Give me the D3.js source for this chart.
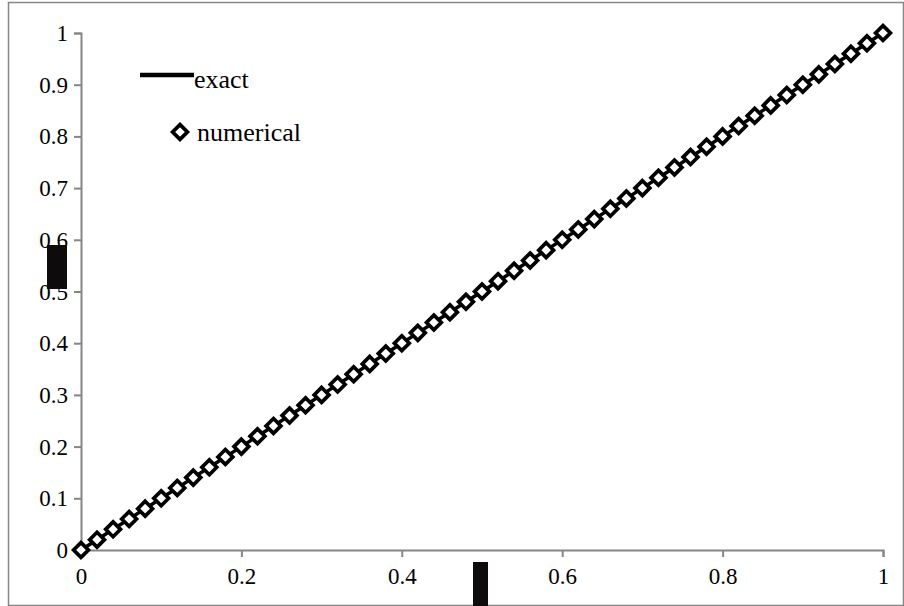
<!DOCTYPE html>
<html>
<head>
<meta charset="utf-8">
<script src="https://cdn.jsdelivr.net/npm/d3@7"></script>
<style>
  body { margin: 0; background: #fff; }
  svg { display: block; }
</style>
</head>
<body>
<svg id="chart" width="904" height="606"></svg>
<script>
// data
const xValues = [0, 0.02, 0.04, 0.06, 0.08, 0.1, 0.12, 0.14, 0.16, 0.18, 0.2,
  0.22, 0.24, 0.26, 0.28, 0.3, 0.32, 0.34, 0.36, 0.38, 0.4,
  0.42, 0.44, 0.46, 0.48, 0.5, 0.52, 0.54, 0.56, 0.58, 0.6,
  0.62, 0.64, 0.66, 0.68, 0.7, 0.72, 0.74, 0.76, 0.78, 0.8,
  0.82, 0.84, 0.86, 0.88, 0.9, 0.92, 0.94, 0.96, 0.98, 1];
const exactValues = [0, 0.02, 0.04, 0.06, 0.08, 0.1, 0.12, 0.14, 0.16, 0.18, 0.2,
  0.22, 0.24, 0.26, 0.28, 0.3, 0.32, 0.34, 0.36, 0.38, 0.4,
  0.42, 0.44, 0.46, 0.48, 0.5, 0.52, 0.54, 0.56, 0.58, 0.6,
  0.62, 0.64, 0.66, 0.68, 0.7, 0.72, 0.74, 0.76, 0.78, 0.8,
  0.82, 0.84, 0.86, 0.88, 0.9, 0.92, 0.94, 0.96, 0.98, 1];
const numericalValues = [0, 0.02, 0.04, 0.06, 0.08, 0.1, 0.12, 0.14, 0.16, 0.18, 0.2,
  0.22, 0.24, 0.26, 0.28, 0.3, 0.32, 0.34, 0.36, 0.38, 0.4,
  0.42, 0.44, 0.46, 0.48, 0.5, 0.52, 0.54, 0.56, 0.58, 0.6,
  0.62, 0.64, 0.66, 0.68, 0.7, 0.72, 0.74, 0.76, 0.78, 0.8,
  0.82, 0.84, 0.86, 0.88, 0.9, 0.92, 0.94, 0.96, 0.98, 1];
const xTicks = [0, 0.2, 0.4, 0.6, 0.8, 1];
const yTicks = [0, 0.1, 0.2, 0.3, 0.4, 0.5, 0.6, 0.7, 0.8, 0.9, 1];
const seriesNames = ["exact", "numerical"];

const svg = d3.select("svg#chart");
const width = +svg.attr("width");
const height = +svg.attr("height");
const axisColor = "#868686";
const serif = '"Liberation Serif", "Times New Roman", serif';

// chart frame
svg.append("rect")
  .attr("x", 8.5).attr("y", 2.5)
  .attr("width", width - 9).attr("height", height - 3)
  .attr("fill", "#fff")
  .attr("stroke", axisColor)
  .attr("stroke-width", 1.5);

const xScale = d3.scaleLinear().domain([0, 1]).range([81, 883]);
const yScale = d3.scaleLinear().domain([0, 1]).range([550, 33]);

// y axis
const yAxis = d3.axisLeft(yScale)
  .tickValues(yTicks)
  .tickSize(7)
  .tickPadding(6)
  .tickFormat(d3.format("~g"));
const yG = svg.append("g")
  .attr("transform", `translate(${xScale(0)},0)`)
  .call(yAxis);

// x axis
const xAxis = d3.axisBottom(xScale)
  .tickValues(xTicks)
  .tickSize(7)
  .tickPadding(11)
  .tickFormat(d3.format("~g"));
const xG = svg.append("g")
  .attr("transform", `translate(0,${yScale(0)})`)
  .call(xAxis);

[xG, yG].forEach((g) => {
  g.select(".domain").attr("stroke", axisColor).attr("stroke-width", 2);
  g.selectAll(".tick line").attr("stroke", axisColor).attr("stroke-width", 2);
  g.selectAll(".tick text")
    .style("font-family", serif)
    .style("font-size", "23px")
    .attr("fill", "#000");
});
yG.selectAll(".tick text").attr("dy", "0.33em");
xG.selectAll(".tick text").attr("dy", "0.71em");

// axis titles were embedded images in the source: dark boxes
svg.append("rect")
  .attr("x", 47).attr("y", 245).attr("width", 20).attr("height", 44)
  .attr("fill", "#0d0b0c");
svg.append("rect")
  .attr("x", 473).attr("y", 562).attr("width", 15).attr("height", 44)
  .attr("fill", "#0d0b0c");

// exact line
const line = d3.line()
  .x((d, i) => xScale(xValues[i]))
  .y((d) => yScale(d));
svg.append("path")
  .datum(exactValues)
  .attr("fill", "none")
  .attr("stroke", "#000")
  .attr("stroke-width", 3.5)
  .attr("d", line);

// numerical diamonds
const diamond = d3.symbol().type(d3.symbolDiamond2).size(140);
svg.append("g")
  .selectAll("path.marker")
  .data(numericalValues)
  .join("path")
  .attr("class", "marker")
  .attr("transform", (d, i) => `translate(${xScale(xValues[i])},${yScale(d)})`)
  .attr("d", diamond)
  .attr("fill", "#fff")
  .attr("stroke", "#000")
  .attr("stroke-width", 3.7);

// legend
const legend = svg.append("g").attr("class", "legend");
legend.append("line")
  .attr("x1", 140).attr("x2", 194)
  .attr("y1", 75).attr("y2", 75)
  .attr("stroke", "#000").attr("stroke-width", 4.5);
legend.append("text")
  .attr("x", 194).attr("y", 79)
  .attr("dy", "0.35em")
  .style("font-family", serif)
  .style("font-size", "26px")
  .text(seriesNames[0]);
legend.append("path")
  .attr("transform", "translate(180,132)")
  .attr("d", diamond)
  .attr("fill", "#fff")
  .attr("stroke", "#000")
  .attr("stroke-width", 3.7);
legend.append("text")
  .attr("x", 197).attr("y", 132)
  .attr("dy", "0.35em")
  .style("font-family", serif)
  .style("font-size", "26px")
  .text(seriesNames[1]);
</script>
</body>
</html>
